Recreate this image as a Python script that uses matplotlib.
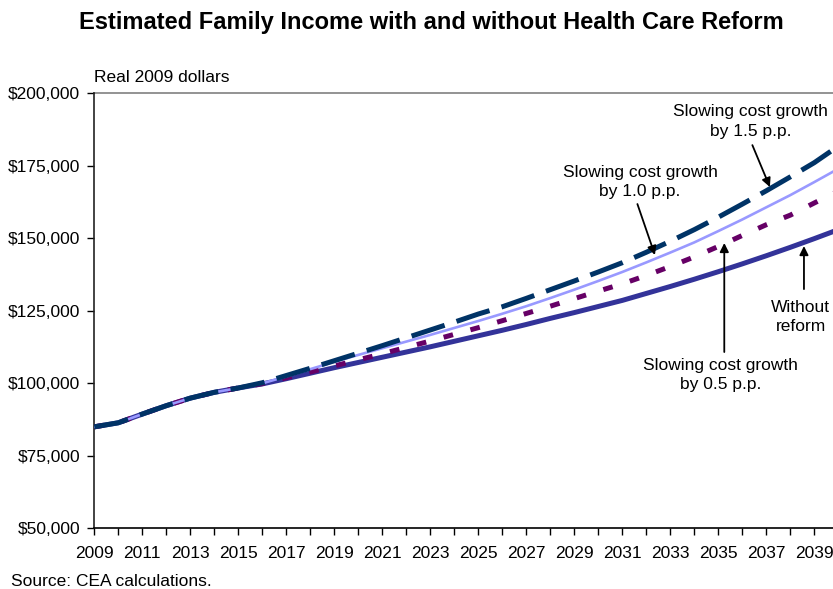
import matplotlib
matplotlib.use("Agg")
import matplotlib.pyplot as plt
from matplotlib.ticker import FuncFormatter, MultipleLocator, FixedLocator

plt.rcParams['font.family'] = ['Liberation Sans', 'DejaVu Sans']
plt.rcParams['lines.scale_dashes'] = False

years = list(range(2009, 2041))
tick_years = list(range(2009, 2041, 2))
common = [85000, 86400, 89400, 92300, 94900, 96900, 98400]
without_reform = common + [99800, 101600, 103500, 105400, 107200, 109000, 110800, 112600,
                           114500, 116400, 118300, 120300, 122400, 124400, 126500, 128600,
                           131000, 133400, 135900, 138500, 141200, 144000, 146900, 149900, 153000]
slow_05 = common + [99900, 101900, 103900, 106000, 108100, 110200, 112400, 114600,
                    116900, 119200, 121600, 124100, 126600, 129200, 131800, 134300,
                    137200, 140300, 143600, 147200, 151000, 154700, 158000, 162200, 166300]
slow_10 = common + [100000, 102400, 104900, 107400, 109800, 112100, 114400, 116700,
                    119100, 121500, 124000, 126600, 129400, 132300, 135300, 138400,
                    141700, 145100, 148600, 152500, 156500, 160700, 164900, 169400, 174000]
slow_15 = common + [100200, 102700, 105200, 107800, 110400, 113000, 115700, 118400,
                    121100, 123900, 126400, 129300, 132300, 135300, 138400, 141600,
                    145200, 149000, 153000, 157300, 161800, 166400, 171200, 176100, 181800]

fig = plt.figure(figsize=(8.33, 5.89), dpi=100)
ax = fig.add_axes([0.1132, 0.1030, 0.8868, 0.7385])

ax.plot(years, without_reform, color='#333399', lw=3.6, solid_capstyle='butt', zorder=2)
ax.plot(years, slow_05, color='#660066', lw=3.6, dashes=(7, 13), zorder=3)
ax.plot(years, slow_10, color='#9999FF', lw=1.9, zorder=4)
ax.plot(years, slow_15, color='#003366', lw=3.6, dashes=(25, 9), zorder=5)

ax.set_xlim(2009, 2039.78)
ax.set_ylim(50000, 200000)
ax.yaxis.set_major_locator(MultipleLocator(25000))
ax.yaxis.set_major_formatter(FuncFormatter(lambda v, p: f"${int(v):,}"))
ax.xaxis.set_major_locator(FixedLocator(tick_years))
ax.xaxis.set_minor_locator(MultipleLocator(1))
ax.xaxis.set_major_formatter(FuncFormatter(lambda v, p: f"{int(round(v))}"))

ax.axhline(200000, color='#808080', lw=1.2, zorder=1, clip_on=False)
for s in ['top', 'right']:
    ax.spines[s].set_visible(False)
ax.spines['left'].set_color('#222222')
ax.spines['left'].set_linewidth(1.2)
ax.spines['bottom'].set_color('black')
ax.spines['bottom'].set_linewidth(1.2)

ax.tick_params(axis='y', which='major', direction='out', length=5, width=1, labelsize=12.5, pad=5, colors='black')
ax.tick_params(axis='x', which='both', direction='out', length=5, width=1, labelsize=12.5, pad=8, colors='black')

fig.text(0.518, 0.962, "Estimated Family Income with and without Health Care Reform",
         ha='center', va='center', fontsize=17, fontweight='bold')
fig.text(94 / 833, 1 - 77 / 589, "Real 2009 dollars", ha='left', va='center', fontsize=12.5)
fig.text(11 / 833, 1 - 581 / 589, "Source: CEA calculations.", ha='left', va='center', fontsize=12.5)

arrow = dict(arrowstyle='-|>', color='black', lw=1.3, mutation_scale=13, shrinkA=0, shrinkB=0)

notes = [
    ("Slowing cost growth\nby 1.5 p.p.", (2036.36, 190300), (2036.42, 182150), (2037.15, 167700)),
    ("Slowing cost growth\nby 1.0 p.p.", (2031.74, 169400), (2031.63, 161830), (2032.36, 144250)),
    ("Slowing cost growth\nby 0.5 p.p.", (2035.09, 102870), (2035.25, 110800), (2035.25, 148400)),
    ("Without\nreform", (2038.43, 122870), (2038.57, 132500), (2038.57, 147350)),
]
for label, txy, tail, tip in notes:
    ax.text(txy[0], txy[1], label, ha='center', va='center', fontsize=12.5,
            linespacing=1.35, clip_on=False, zorder=6)
    ax.annotate('', xy=tip, xytext=tail, arrowprops=arrow, annotation_clip=False, zorder=6)

fig.savefig("out.png", dpi=100)
